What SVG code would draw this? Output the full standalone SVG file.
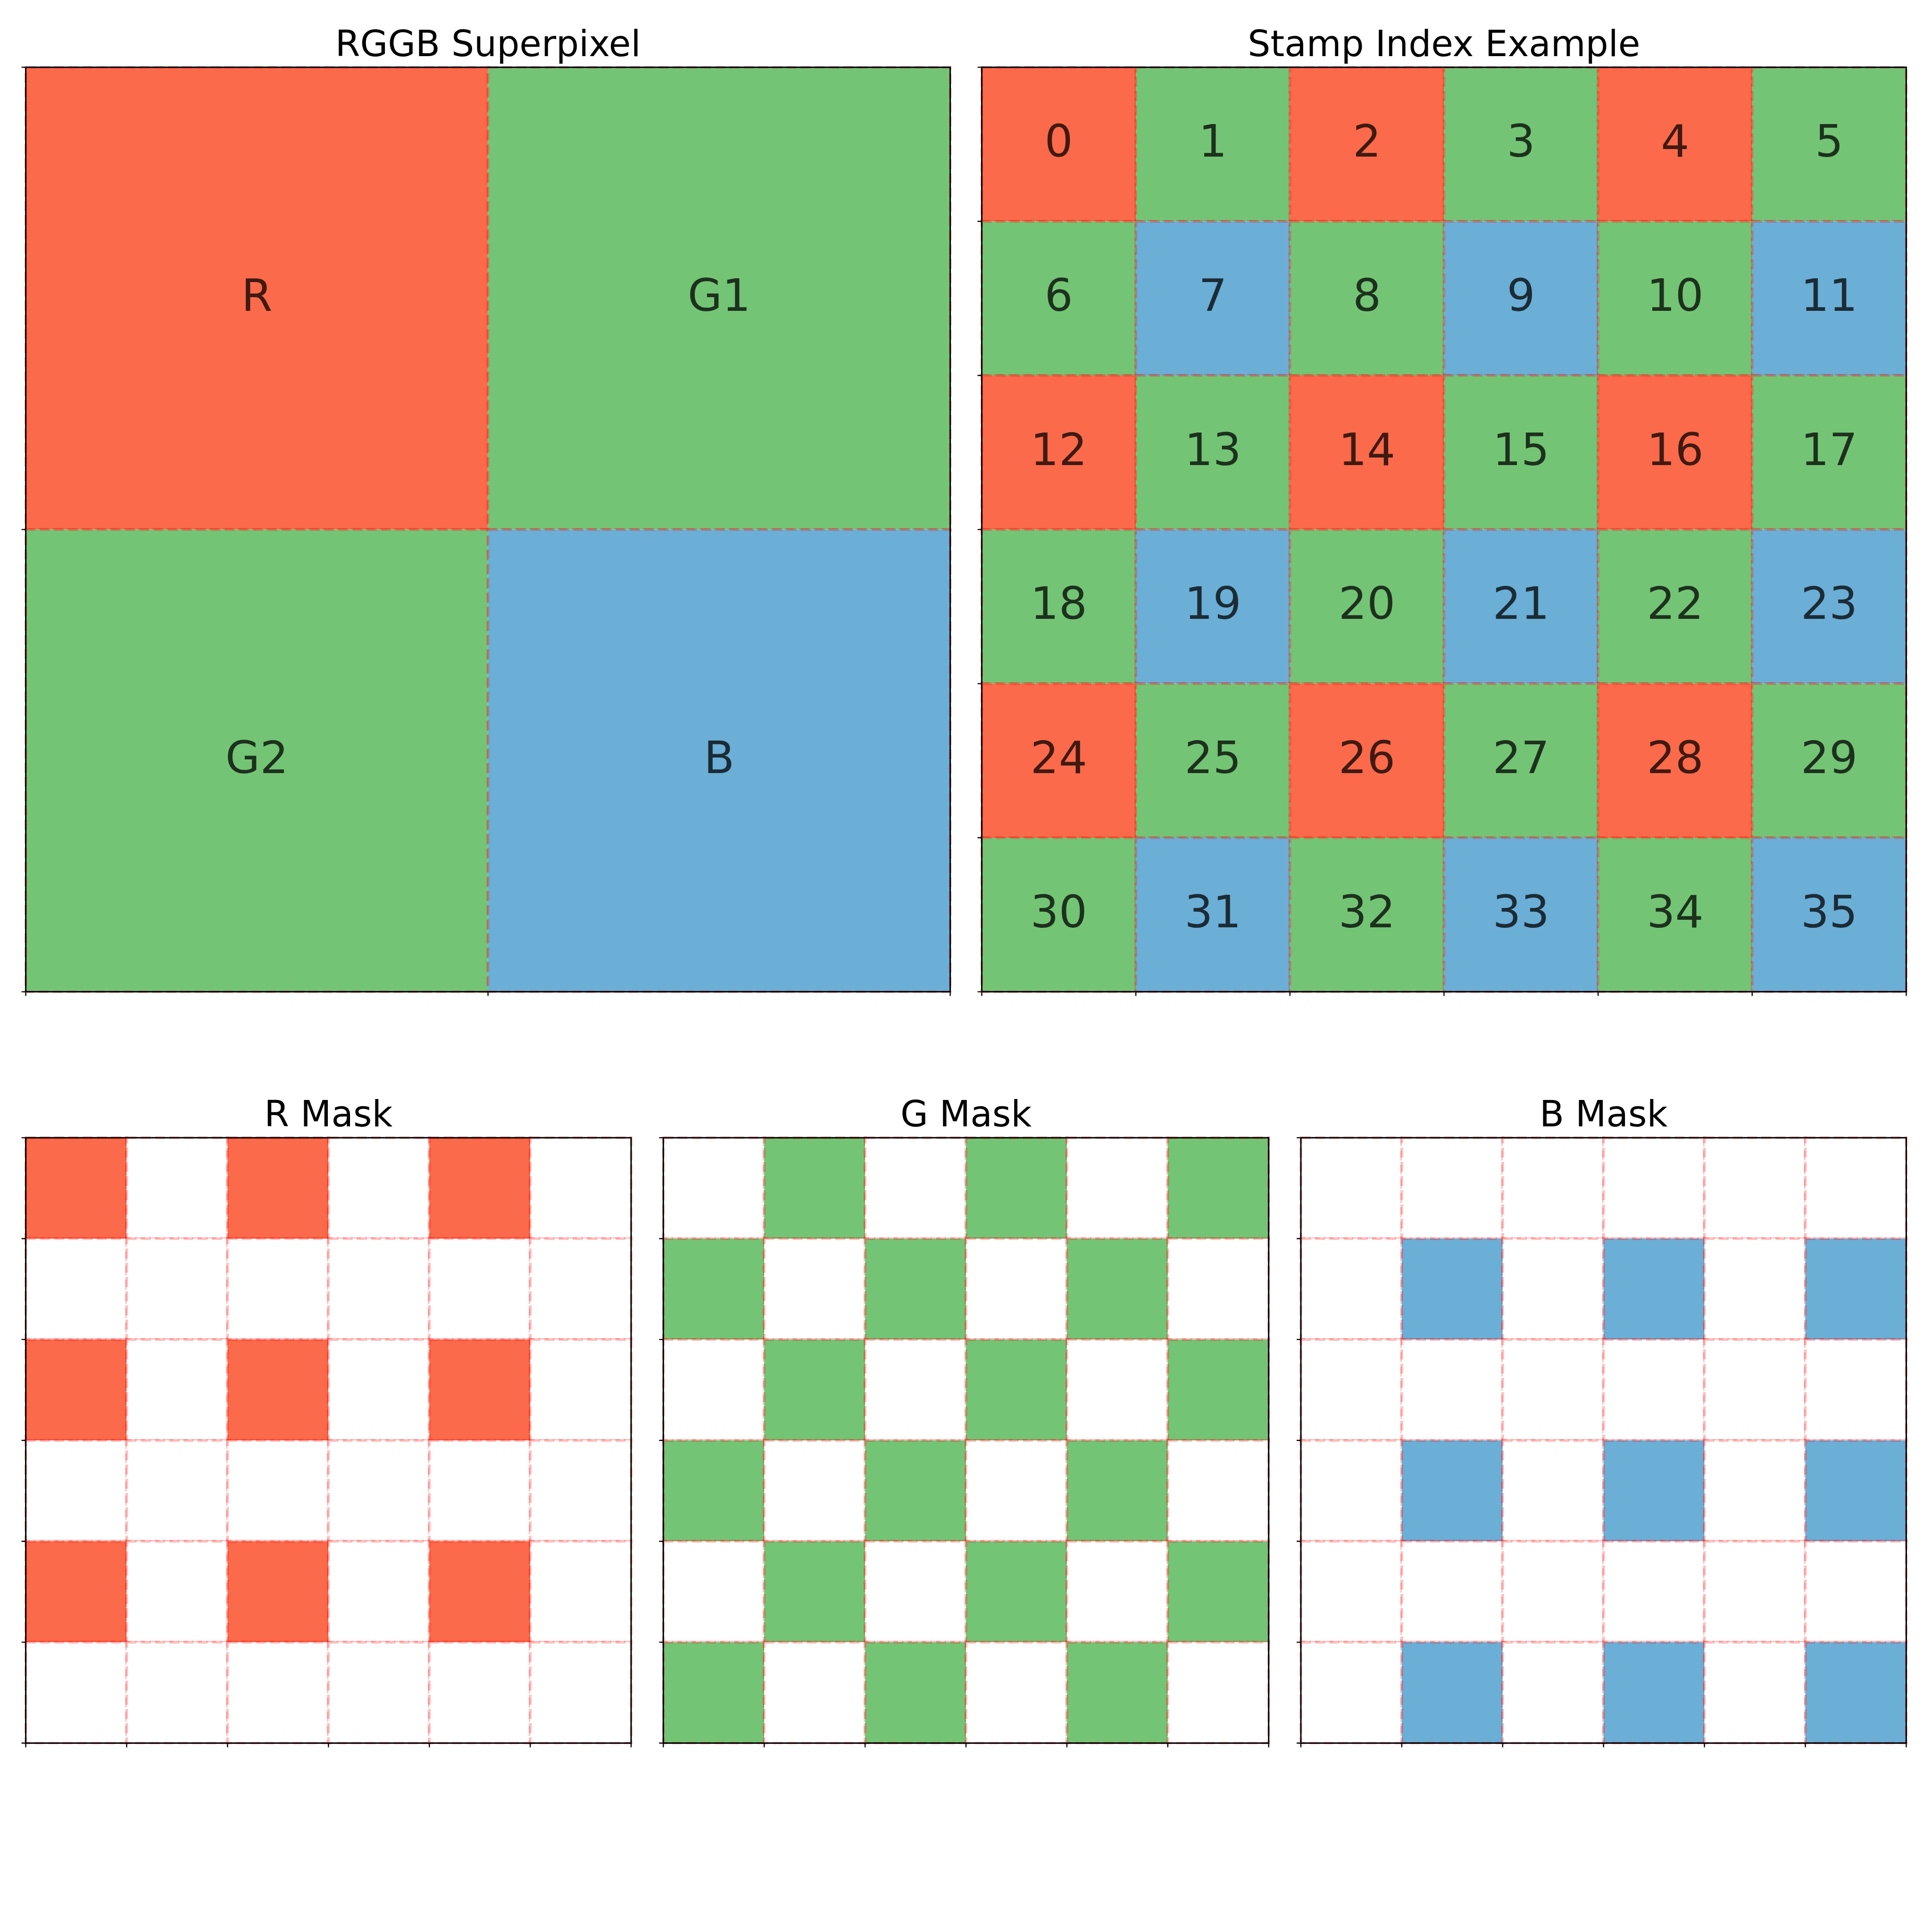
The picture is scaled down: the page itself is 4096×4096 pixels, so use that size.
<svg xmlns="http://www.w3.org/2000/svg" xmlns:xlink="http://www.w3.org/1999/xlink" width="4096" height="4096" viewBox="0 0 4096 4096">
<style>
.r{fill:#fb6a4a}.g{fill:#74c476}.b{fill:#6baed6}.w{fill:#ffffff}
.cell{stroke:#ff0000;stroke-opacity:0.25;stroke-width:6.25;stroke-dasharray:23.1 10}
.spine{fill:none;stroke:#000;stroke-width:3.3;stroke-dasharray:none;stroke-opacity:1}
.tick{stroke:#000;stroke-width:2.6}
.title{font-family:"DejaVu Sans",sans-serif;font-size:83.3px;text-anchor:middle;fill:#000}
.lbl{font-family:"DejaVu Sans",sans-serif;font-size:104px;text-anchor:middle;fill:#000;fill-opacity:0.75}
</style>
<defs>
<g id="trEven"><rect class="r" x="0" y="0" width="358.89" height="358.89"/><rect class="g" x="358.89" y="0" width="358.89" height="358.89"/><rect class="r" x="717.78" y="0" width="358.89" height="358.89"/><rect class="g" x="1076.67" y="0" width="358.89" height="358.89"/><rect class="r" x="1435.56" y="0" width="358.89" height="358.89"/><rect class="g" x="1794.44" y="0" width="358.89" height="358.89"/></g>
<g id="trOdd"><rect class="g" x="0" y="0" width="358.89" height="358.89"/><rect class="b" x="358.89" y="0" width="358.89" height="358.89"/><rect class="g" x="717.78" y="0" width="358.89" height="358.89"/><rect class="b" x="1076.67" y="0" width="358.89" height="358.89"/><rect class="g" x="1435.56" y="0" width="358.89" height="358.89"/><rect class="b" x="1794.44" y="0" width="358.89" height="358.89"/></g>
<g id="rEven"><rect class="r" x="0" y="0" width="235" height="235"/><rect class="w" x="235" y="0" width="235" height="235"/><rect class="r" x="470" y="0" width="235" height="235"/><rect class="w" x="705" y="0" width="235" height="235"/><rect class="r" x="940" y="0" width="235" height="235"/><rect class="w" x="1175" y="0" width="235" height="235"/></g>
<g id="wRow"><rect class="w" x="0" y="0" width="235" height="235"/><rect class="w" x="235" y="0" width="235" height="235"/><rect class="w" x="470" y="0" width="235" height="235"/><rect class="w" x="705" y="0" width="235" height="235"/><rect class="w" x="940" y="0" width="235" height="235"/><rect class="w" x="1175" y="0" width="235" height="235"/></g>
<g id="gEven"><rect class="w" x="0" y="0" width="235" height="235"/><rect class="g" x="235" y="0" width="235" height="235"/><rect class="w" x="470" y="0" width="235" height="235"/><rect class="g" x="705" y="0" width="235" height="235"/><rect class="w" x="940" y="0" width="235" height="235"/><rect class="g" x="1175" y="0" width="235" height="235"/></g>
<g id="gOdd"><rect class="g" x="0" y="0" width="235" height="235"/><rect class="w" x="235" y="0" width="235" height="235"/><rect class="g" x="470" y="0" width="235" height="235"/><rect class="w" x="705" y="0" width="235" height="235"/><rect class="g" x="940" y="0" width="235" height="235"/><rect class="w" x="1175" y="0" width="235" height="235"/></g>
<g id="bOdd"><rect class="w" x="0" y="0" width="235" height="235"/><rect class="b" x="235" y="0" width="235" height="235"/><rect class="w" x="470" y="0" width="235" height="235"/><rect class="b" x="705" y="0" width="235" height="235"/><rect class="w" x="940" y="0" width="235" height="235"/><rect class="b" x="1175" y="0" width="235" height="235"/></g>
<g id="ticksSmall"><path class="tick" d="M-1.6 0H-9.8M-1.6 235H-9.8M-1.6 470H-9.8M-1.6 705H-9.8M-1.6 940H-9.8M-1.6 1175H-9.8M-1.6 1410H-9.8M0 1411.6V1419.8M235 1411.6V1419.8M470 1411.6V1419.8M705 1411.6V1419.8M940 1411.6V1419.8M1175 1411.6V1419.8M1410 1411.6V1419.8"/><rect class="spine" x="0" y="0" width="1410" height="1410"/></g>
</defs>
<rect x="0" y="0" width="4096" height="4096" fill="#fff"/>
<g transform="scale(0.910222)">
<g id="panel-rggb" transform="translate(60,156.7)">
<g class="cell">
<rect class="r" x="0" y="0" width="1076.67" height="1076.67"/>
<rect class="g" x="1076.67" y="0" width="1076.67" height="1076.67"/>
<rect class="g" x="0" y="1076.67" width="1076.67" height="1076.67"/>
<rect class="b" x="1076.67" y="1076.67" width="1076.67" height="1076.67"/>
</g>
<rect class="spine" x="0" y="0" width="2153.3" height="2153.3"/>
<path class="tick" d="M-1.6 0H-9.8M-1.6 1076.67H-9.8M-1.6 2153.3H-9.8M0 2155V2163.2M1076.67 2155V2163.2M2153.3 2155V2163.2"/>
<text class="lbl" x="538.3" y="567.3">R</text>
<text class="lbl" x="1615" y="567.3">G1</text>
<text class="lbl" x="538.3" y="1644">G2</text>
<text class="lbl" x="1615" y="1644">B</text>
<text class="title" x="1076.67" y="-26">RGGB Superpixel</text>
</g>
<g id="panel-stamp" transform="translate(2286.7,156.7)">
<g class="cell">
<use xlink:href="#trEven" y="0"/>
<use xlink:href="#trOdd" y="358.89"/>
<use xlink:href="#trEven" y="717.78"/>
<use xlink:href="#trOdd" y="1076.67"/>
<use xlink:href="#trEven" y="1435.56"/>
<use xlink:href="#trOdd" y="1794.44"/>
</g>
<rect class="spine" x="0" y="0" width="2153.3" height="2153.3"/>
<path class="tick" d="M-1.6 0H-9.8M-1.6 358.89H-9.8M-1.6 717.78H-9.8M-1.6 1076.67H-9.8M-1.6 1435.56H-9.8M-1.6 1794.44H-9.8M-1.6 2153.3H-9.8M0 2155V2163.2M358.89 2155V2163.2M717.78 2155V2163.2M1076.67 2155V2163.2M1435.56 2155V2163.2M1794.44 2155V2163.2M2153.3 2155V2163.2"/>
<g>
<text class="lbl" x="179.44" y="208.44">0</text><text class="lbl" x="538.33" y="208.44">1</text><text class="lbl" x="897.22" y="208.44">2</text><text class="lbl" x="1256.11" y="208.44">3</text><text class="lbl" x="1615" y="208.44">4</text><text class="lbl" x="1973.89" y="208.44">5</text>
<text class="lbl" x="179.44" y="567.33">6</text><text class="lbl" x="538.33" y="567.33">7</text><text class="lbl" x="897.22" y="567.33">8</text><text class="lbl" x="1256.11" y="567.33">9</text><text class="lbl" x="1615" y="567.33">10</text><text class="lbl" x="1973.89" y="567.33">11</text>
<text class="lbl" x="179.44" y="926.22">12</text><text class="lbl" x="538.33" y="926.22">13</text><text class="lbl" x="897.22" y="926.22">14</text><text class="lbl" x="1256.11" y="926.22">15</text><text class="lbl" x="1615" y="926.22">16</text><text class="lbl" x="1973.89" y="926.22">17</text>
<text class="lbl" x="179.44" y="1285.11">18</text><text class="lbl" x="538.33" y="1285.11">19</text><text class="lbl" x="897.22" y="1285.11">20</text><text class="lbl" x="1256.11" y="1285.11">21</text><text class="lbl" x="1615" y="1285.11">22</text><text class="lbl" x="1973.89" y="1285.11">23</text>
<text class="lbl" x="179.44" y="1644">24</text><text class="lbl" x="538.33" y="1644">25</text><text class="lbl" x="897.22" y="1644">26</text><text class="lbl" x="1256.11" y="1644">27</text><text class="lbl" x="1615" y="1644">28</text><text class="lbl" x="1973.89" y="1644">29</text>
<text class="lbl" x="179.44" y="2002.89">30</text><text class="lbl" x="538.33" y="2002.89">31</text><text class="lbl" x="897.22" y="2002.89">32</text><text class="lbl" x="1256.11" y="2002.89">33</text><text class="lbl" x="1615" y="2002.89">34</text><text class="lbl" x="1973.89" y="2002.89">35</text>
</g>
<text class="title" x="1076.67" y="-26">Stamp Index Example</text>
</g>
<g id="panel-rmask" transform="translate(60,2650)">
<g class="cell">
<use xlink:href="#rEven" y="0"/><use xlink:href="#wRow" y="235"/><use xlink:href="#rEven" y="470"/><use xlink:href="#wRow" y="705"/><use xlink:href="#rEven" y="940"/><use xlink:href="#wRow" y="1175"/>
</g>
<use xlink:href="#ticksSmall"/>
<text class="title" x="705" y="-26">R Mask</text>
</g>
<g id="panel-gmask" transform="translate(1545,2650)">
<g class="cell">
<use xlink:href="#gEven" y="0"/><use xlink:href="#gOdd" y="235"/><use xlink:href="#gEven" y="470"/><use xlink:href="#gOdd" y="705"/><use xlink:href="#gEven" y="940"/><use xlink:href="#gOdd" y="1175"/>
</g>
<use xlink:href="#ticksSmall"/>
<text class="title" x="705" y="-26">G Mask</text>
</g>
<g id="panel-bmask" transform="translate(3030,2650)">
<g class="cell">
<use xlink:href="#wRow" y="0"/><use xlink:href="#bOdd" y="235"/><use xlink:href="#wRow" y="470"/><use xlink:href="#bOdd" y="705"/><use xlink:href="#wRow" y="940"/><use xlink:href="#bOdd" y="1175"/>
</g>
<use xlink:href="#ticksSmall"/>
<text class="title" x="705" y="-26">B Mask</text>
</g>
</g>
</svg>
